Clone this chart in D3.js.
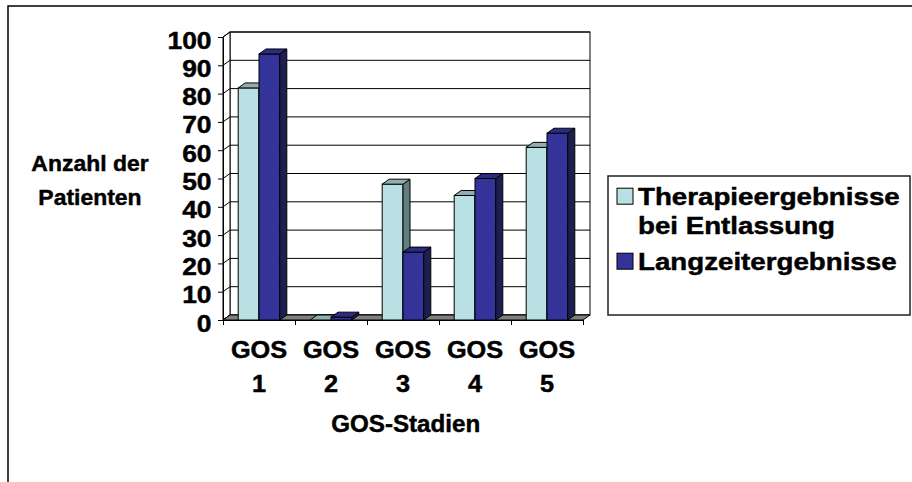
<!DOCTYPE html>
<html>
<head>
<meta charset="utf-8">
<script src="https://cdn.jsdelivr.net/npm/d3@7"></script>
<style>
  body { margin: 0; background: #fff; }
  text { font-family: "Liberation Sans", Arial, sans-serif; font-weight: bold; fill: #000; stroke: #000; stroke-width: 0.45px; }
</style>
</head>
<body>
<svg id="chart" width="912" height="482"></svg>
<script>
// GOS outcome per stage: discharge vs. long-term
const categories = ["GOS 1", "GOS 2", "GOS 3", "GOS 4", "GOS 5"];
const seriesNames = ["Therapieergebnisse bei Entlassung", "Langzeitergebnisse"];
const entlassung = [82, 0, 48, 44, 61];
const langzeit = [94, 1, 24, 50, 66];
const yTicks = [0, 10, 20, 30, 40, 50, 60, 70, 80, 90, 100];
const yTitle = ["Anzahl der", "Patienten"];
const xTitle = "GOS-Stadien";
const legendLines = [["Therapieergebnisse", "bei Entlassung"], ["Langzeitergebnisse"]];

const series = [entlassung, langzeit];
const colors = [
  { front: "#B9E0E3", top: "#91AEAF", side: "#627D7E" },
  { front: "#333399", top: "#2B2B82", side: "#1E1E50" }
];

const svg = d3.select("#chart");

// plot box (front plane) and 3D depth offset
const P = { left: 223, right: 583, bottom: 320, top: 37 };
const D = { dx: 7, dy: -5 };

const y = d3.scaleLinear().domain([0, 100]).range([P.bottom, P.top]);
const x0 = d3.scaleBand().domain(categories).range([P.left, P.right]);
const x1 = d3.scaleBand().domain(d3.range(series.length))
  .range([0, x0.bandwidth()]).paddingInner(0).paddingOuter(0.73);
const xEdge = d3.scaleLinear().domain([0, categories.length]).range([P.left, P.right]);

const pts = a => a.map(p => p.join(",")).join(" ");

// outer frame
svg.append("rect").attr("x", 8).attr("y", 6).attr("width", 1000).attr("height", 1000)
  .attr("fill", "none").attr("stroke", "#000").attr("stroke-width", 1.5);

// back wall and side wall
svg.append("rect")
  .attr("x", P.left + D.dx).attr("y", y(100) + D.dy)
  .attr("width", P.right - P.left).attr("height", y(0) - y(100))
  .attr("fill", "#fff").attr("stroke", "#000");
svg.append("polygon")
  .attr("points", pts([[P.left, y(100)], [P.left + D.dx, y(100) + D.dy],
                       [P.left + D.dx, y(0) + D.dy], [P.left, y(0)]]))
  .attr("fill", "#fff").attr("stroke", "#000");

// gridlines on side wall and back wall
svg.append("g").selectAll("polyline").data(yTicks).join("polyline")
  .attr("points", v => pts([[P.left, y(v)], [P.left + D.dx, y(v) + D.dy], [P.right + D.dx, y(v) + D.dy]]))
  .attr("fill", "none").attr("stroke", "#000").attr("stroke-width", 1);

// floor
svg.append("polygon")
  .attr("points", pts([[P.left, y(0)], [P.right, y(0)], [P.right + D.dx, y(0) + D.dy], [P.left + D.dx, y(0) + D.dy]]))
  .attr("fill", "#808080").attr("stroke", "#000");

// y axis
const yAxis = svg.append("g").attr("transform", `translate(${P.left},0)`)
  .call(d3.axisLeft(y).tickValues(yTicks).tickSize(5).tickSizeOuter(0));
yAxis.select(".domain").attr("stroke", "#000");
yAxis.selectAll(".tick line").attr("stroke", "#000");
yAxis.selectAll(".tick text")
  .attr("x", null).attr("dy", null)
  .attr("text-anchor", "end").attr("font-size", 24)
  .attr("font-family", null).attr("fill", "#000")
  .attr("transform", "translate(-11.5,11) scale(1.1,1)");
yAxis.attr("font-family", null).attr("font-size", null);

// x axis with ticks at category boundaries
const xAxis = svg.append("g").attr("transform", `translate(0,${P.bottom})`)
  .call(d3.axisBottom(xEdge).tickValues(d3.range(categories.length + 1)).tickSize(5).tickSizeOuter(0).tickFormat(""));
xAxis.select(".domain").attr("stroke", "#000");
xAxis.selectAll(".tick line").attr("stroke", "#000");

// bars
const barG = svg.append("g");
categories.forEach((c, i) => {
  series.forEach((s, j) => {
    const v = s[i];
    const bx = x0(c) + x1(j), w = x1.bandwidth(), yt = y(v), yb = y(0);
    const col = colors[j];
    barG.append("rect").attr("x", bx).attr("y", yt).attr("width", w).attr("height", yb - yt)
      .attr("fill", col.front).attr("stroke", "#000").attr("stroke-width", 1);
    barG.append("polygon")
      .attr("points", pts([[bx + w, yt], [bx + w + D.dx, yt + D.dy], [bx + w + D.dx, yb + D.dy], [bx + w, yb]]))
      .attr("fill", col.side).attr("stroke", "#000").attr("stroke-width", 1).attr("stroke-linejoin", "round");
    barG.append("polygon")
      .attr("points", pts([[bx, yt], [bx + w, yt], [bx + w + D.dx, yt + D.dy], [bx + D.dx, yt + D.dy]]))
      .attr("fill", col.top).attr("stroke", "#000").attr("stroke-width", 1).attr("stroke-linejoin", "round");
  });
});

// stretched bold text helper
function label(str, x, yb, size, sx, anchor) {
  svg.append("text")
    .attr("transform", `translate(${x},${yb}) scale(${sx},1)`)
    .attr("font-size", size).attr("text-anchor", anchor).text(str);
}

// category labels (two lines)
categories.forEach(c => {
  const cx = x0(c) + x0.bandwidth() / 2;
  c.split(" ").forEach((part, k) => label(part, cx, 357.7 + k * 34, 23, 1.1, "middle"));
});

// axis titles
label(xTitle, 405.7, 431.7, 23, 1.05, "middle");
yTitle.forEach((t, k) => label(t, 90, 171 + k * 34, 22.5, 1.02, "middle"));

// legend
svg.append("rect").attr("x", 608).attr("y", 176).attr("width", 302).attr("height", 139)
  .attr("fill", "#fff").attr("stroke", "#222").attr("stroke-width", 1.5);
const legendY = [204.5, 269.5];
seriesNames.forEach((name, j) => {
  svg.append("rect").attr("x", 617).attr("y", legendY[j] - 16.3).attr("width", 16).attr("height", 16)
    .attr("fill", colors[j].front).attr("stroke", "#000");
  legendLines[j].forEach((line, k) => label(line, 638, legendY[j] + k * 29, 24, 1.155, "start"));
});
</script>
</body>
</html>
